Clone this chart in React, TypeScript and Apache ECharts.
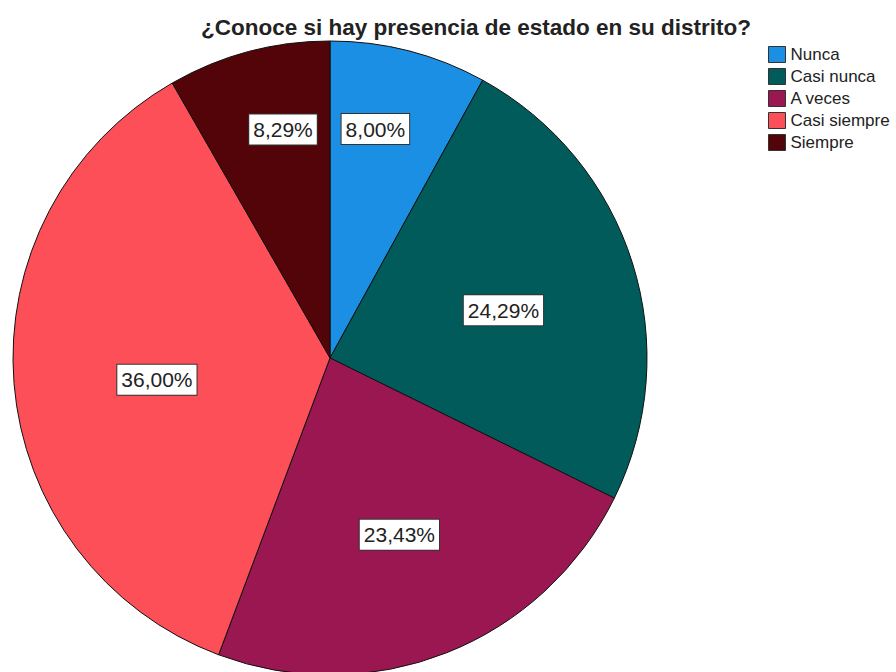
import React, { useEffect, useRef } from "react";
import * as echarts from "echarts";

const titleText = "¿Conoce si hay presencia de estado en su distrito?";
const categories = ["Nunca", "Casi nunca", "A veces", "Casi siempre", "Siempre"];
const percents = [8.0, 24.29, 23.43, 36.0, 8.29];
const colors = ["#1a8fe3", "#015b5b", "#9b1751", "#fd4f58", "#530408"];

const FONT = 'Arial, "Liberation Sans", sans-serif';
const CX = 330;
const CY = 358;

export default function App() {
  const ref = useRef<HTMLDivElement>(null);
  useEffect(() => {
    if (!ref.current) return;
    const chart = echarts.init(ref.current, undefined, { renderer: "svg" });
    chart.setOption({
      animation: false,
      backgroundColor: "#ffffff",
      title: {
        text: titleText,
        left: 476,
        textAlign: "center",
        top: 16,
        padding: 0,
        textStyle: { fontFamily: FONT, fontSize: 22.5, fontWeight: "bold", color: "#222" },
      },
      legend: {
        orient: "vertical",
        left: 768,
        top: 46,
        padding: 0,
        itemWidth: 17,
        itemHeight: 16,
        itemGap: 5,
        icon: "rect",
        itemStyle: { borderColor: "#333", borderWidth: 1 },
        textStyle: { fontFamily: FONT, fontSize: 17, color: "#222" },
        data: categories,
      },
      series: [
        {
          type: "pie",
          center: [CX, CY],
          radius: [0, 317],
          startAngle: 90,
          clockwise: true,
          data: categories.map((name, i) => ({
            name,
            value: percents[i],
            itemStyle: { color: colors[i] },
          })),
          itemStyle: { borderColor: "#111", borderWidth: 1 },
          label: {
            show: true,
            position: "inside",
            formatter: (p: any) => p.value.toFixed(2).replace(".", ",") + "%",
            fontFamily: FONT,
            fontSize: 21,
            color: "#222",
            backgroundColor: "#ffffff",
            borderColor: "#333",
            borderWidth: 1,
            padding: [5, 4, 4, 4],
          },
          labelLine: { show: false },
          labelLayout: (params: any) => {
            const r = params.labelRect;
            const lx = r.x + r.width / 2;
            const ly = r.y + r.height / 2;
            const small = percents[params.dataIndex] < 10;
            const fx = small ? 1.13 : 1.1;
            const fy = small ? 1.47 : 1.13;
            const dx = small ? 0 : 4;
            const dy = small ? 1 : 7;
            return { x: CX + (lx - CX) * fx + dx, y: CY + (ly - CY) * fy + dy };
          },
          emphasis: { disabled: true },
        },
      ],
    });
    return () => chart.dispose();
  }, []);
  return (
    <div
      ref={ref}
      style={{ position: "fixed", left: 0, top: 0, width: 896, height: 672 }}
    />
  );
}
